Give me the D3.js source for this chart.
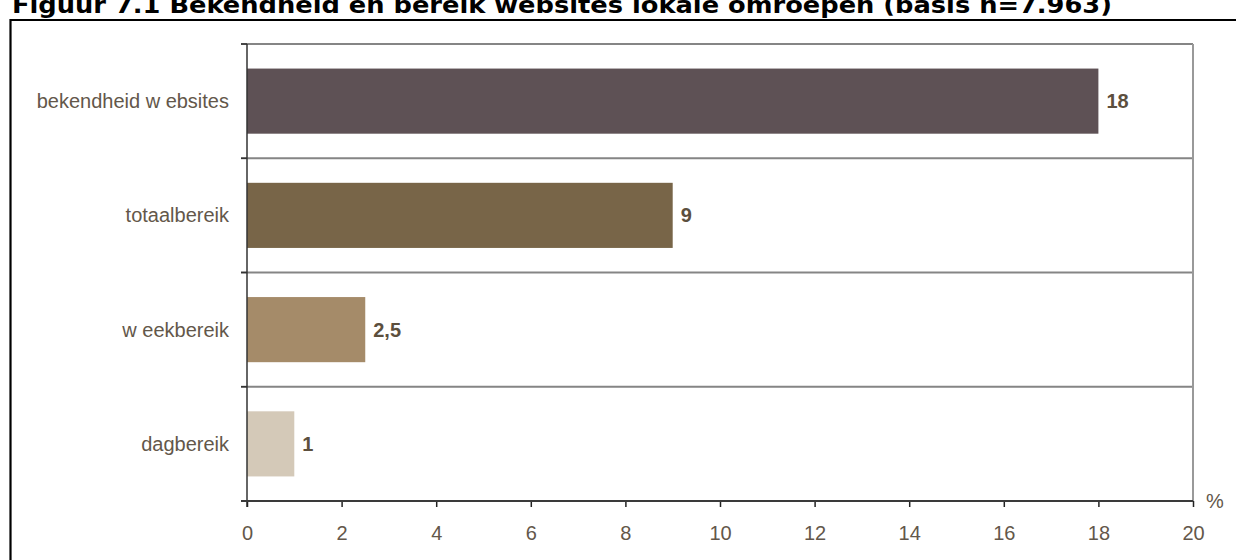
<!DOCTYPE html>
<html>
<head>
<meta charset="utf-8">
<script src="https://cdn.jsdelivr.net/npm/d3@7"></script>
<style>
  html, body { margin: 0; padding: 0; background: #fff; overflow: hidden; }
  svg { display: block; }
</style>
</head>
<body>
<svg id="chart" width="1236" height="560"></svg>
<script>
// Reach of local broadcasters' websites (percent)
const categories = ["bekendheid w ebsites", "totaalbereik", "w eekbereik", "dagbereik"];
const values = [18, 9, 2.5, 1];
const valueLabels = ["18", "9", "2,5", "1"];
const barColors = ["#5e5155", "#786548", "#a58b69", "#d4c9b8"];
const xTicks = [0, 2, 4, 6, 8, 10, 12, 14, 16, 18, 20];
const titleText = "Figuur 7.1 Bekendheid en bereik websites lokale omroepen (basis n=7.963)";

const svg = d3.select("#chart");
const textColor = "#63574a";
const labelFont = "'Liberation Sans', Arial, sans-serif";

const plot = { left: 247, right: 1193, top: 44, bottom: 501 };

const x = d3.scaleLinear().domain([0, 20]).range([plot.left, plot.right]);
const y = d3.scaleBand().domain(categories).range([plot.top, plot.bottom]).padding(0);
const barFrac = 0.57;

// Title (its top runs off the page edge) and outer frame
svg.append("text")
  .attr("x", 12).attr("y", 13)
  .attr("font-family", "'DejaVu Sans', Verdana, sans-serif")
  .attr("font-weight", "bold")
  .attr("font-size", 23)
  .attr("fill", "#000")
  .attr("textLength", 1100)
  .attr("lengthAdjust", "spacingAndGlyphs")
  .text(titleText);

svg.append("path")
  .attr("d", `M10.5,570 V20 H1240`)
  .attr("fill", "none")
  .attr("stroke", "#000")
  .attr("stroke-width", 2.2);

// Band separators, top line and right border
const boundaries = categories.map(c => y(c)).concat([plot.bottom]);
svg.append("g").selectAll("line.sep")
  .data(boundaries.slice(0, -1))
  .join("line")
  .attr("x1", plot.left - 6).attr("x2", plot.right)
  .attr("y1", d => d).attr("y2", d => d)
  .attr("stroke", "#858585")
  .attr("stroke-width", 2);

svg.append("line")
  .attr("x1", plot.right).attr("x2", plot.right)
  .attr("y1", plot.top).attr("y2", plot.bottom)
  .attr("stroke", "#999")
  .attr("stroke-width", 2);

// Bars
svg.append("g").selectAll("rect")
  .data(categories)
  .join("rect")
  .attr("x", x(0))
  .attr("y", c => y(c) + y.bandwidth() * (1 - barFrac) / 2)
  .attr("width", (c, i) => x(values[i]) - x(0))
  .attr("height", y.bandwidth() * barFrac)
  .attr("fill", (c, i) => barColors[i]);

// Value labels
svg.append("g").selectAll("text")
  .data(categories)
  .join("text")
  .attr("x", (c, i) => x(values[i]) + 8)
  .attr("y", c => y(c) + y.bandwidth() / 2 + 7)
  .attr("font-family", labelFont)
  .attr("font-weight", "bold")
  .attr("font-size", 20)
  .attr("fill", "#5c4f3e")
  .text((c, i) => valueLabels[i]);

// Category axis
svg.append("line")
  .attr("x1", plot.left).attr("x2", plot.left)
  .attr("y1", plot.top).attr("y2", plot.bottom + 6)
  .attr("stroke", "#333")
  .attr("stroke-width", 1.5);
svg.append("g").selectAll("line")
  .data(boundaries)
  .join("line")
  .attr("x1", plot.left - 6).attr("x2", plot.left)
  .attr("y1", d => d).attr("y2", d => d)
  .attr("stroke", "#333")
  .attr("stroke-width", 1.5);

svg.append("g").selectAll("text")
  .data(categories)
  .join("text")
  .attr("x", 229)
  .attr("y", c => y(c) + y.bandwidth() / 2 + 7)
  .attr("text-anchor", "end")
  .attr("font-family", labelFont)
  .attr("font-size", 20)
  .attr("fill", textColor)
  .text(c => c);

// Value axis
const xAxis = d3.axisBottom(x).tickValues(xTicks).tickSize(6).tickPadding(0).tickFormat(d3.format("d"));
const gx = svg.append("g")
  .attr("transform", `translate(0,${plot.bottom})`)
  .call(xAxis);
gx.select(".domain").remove();
gx.selectAll(".tick line").attr("stroke", "#222").attr("stroke-width", 1.5);
gx.selectAll(".tick text")
  .attr("y", 39)
  .attr("dy", 0)
  .attr("font-family", labelFont)
  .attr("font-size", 20)
  .attr("fill", textColor);
svg.append("line")
  .attr("x1", plot.left - 6).attr("x2", plot.right)
  .attr("y1", plot.bottom).attr("y2", plot.bottom)
  .attr("stroke", "#3a3a3a")
  .attr("stroke-width", 2);

svg.append("text")
  .attr("x", 1206).attr("y", 508)
  .attr("font-family", labelFont)
  .attr("font-size", 20)
  .attr("fill", textColor)
  .text("%");
</script>
</body>
</html>
